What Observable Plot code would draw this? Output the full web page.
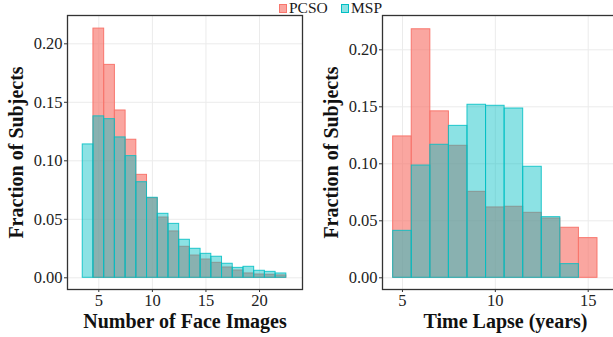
<!DOCTYPE html>
<html>
<head>
<meta charset="utf-8">
<script src="https://cdn.jsdelivr.net/npm/d3@7"></script>
<script src="https://cdn.jsdelivr.net/npm/@observablehq/plot@0.6"></script>
<style>
  html, body { margin: 0; padding: 0; background: #fff; overflow: hidden; width: 613px; height: 337px; }
  #wrap { position: relative; width: 613px; height: 337px; }
  #legend { position: absolute; left: 0; top: 0; width: 613px; height: 15px; z-index: 2; font-family: "Liberation Serif", serif; font-size: 15.5px; color: #1a1a1a; }
  .item { position: absolute; top: 0px; line-height: 15px; white-space: nowrap; }
  .sw { display: inline-block; width: 6px; height: 7px; margin-right: 2px; vertical-align: 0px; border: 1px solid; }
  #row { position: absolute; left: 0; top: 14px; display: flex; width: 613px; overflow: hidden; }
  #left { width: 308px; flex: none; }
  #right { width: 320px; flex: none; }
  g[aria-label="y-axis label"] text, g[aria-label="x-axis label"] text { font-size: 20px !important; font-weight: bold; fill: #111; }
</style>
</head>
<body>
<div id="wrap">
<div id="legend"></div>
<div id="row"><div id="left"></div><div id="right"></div></div>
</div>
<script>
// ---- data ----
const seriesNames = ["PCSO", "MSP"];
const seriesColors = ["#F8766D", "#00BFC4"];

// Left panel: Number of Face Images
const faceBins = [4, 5, 6, 7, 8, 9, 10, 11, 12, 13, 14, 15, 16, 17, 18, 19, 20, 21, 22];
const facePCSO = [0, 0.213, 0.182, 0.143, 0.118, 0.088, 0.068, 0.0515, 0.0396, 0.0265, 0.019, 0.0156, 0.0128, 0.0088, 0.0062, 0.0037, 0.0028, 0.0026, 0.002];
const faceMSP  = [0.114, 0.138, 0.1356, 0.120, 0.104, 0.0817, 0.0684, 0.0547, 0.0461, 0.0325, 0.0248, 0.0205, 0.018, 0.012, 0.0085, 0.0094, 0.006, 0.0051, 0.0037];

// Right panel: Time Lapse (years)
const lapseBins = [5, 6, 7, 8, 9, 10, 11, 12, 13, 14, 15];
const lapsePCSO = [0.124, 0.218, 0.146, 0.1158, 0.0754, 0.0617, 0.0623, 0.057, 0.052, 0.0439, 0.0348];
const lapseMSP  = [0.0412, 0.0985, 0.1167, 0.1333, 0.1518, 0.1509, 0.1485, 0.0974, 0.0532, 0.012, 0];

const yTicks = [0, 0.05, 0.10, 0.15, 0.20];
const faceTicks = [5, 10, 15, 20];
const lapseTicks = [5, 10, 15];

// ---- legend ----
const legend = document.getElementById("legend");
const legendLeft = [279, 341];
seriesNames.forEach((n, i) => {
  const d = document.createElement("div");
  d.className = "item";
  d.style.left = legendLeft[i] + "px";
  const c = d3.color(seriesColors[i]); c.opacity = i === 0 ? 0.65 : 0.45;
  d.innerHTML = `<span class="sw" style="background:${c.formatRgb()};border-color:${seriesColors[i]}"></span>${n}`;
  legend.appendChild(d);
});

function rows(bins, a, b) {
  const out = [];
  bins.forEach((x, i) => out.push({x, y: a[i], s: seriesNames[0]}));
  bins.forEach((x, i) => out.push({x, y: b[i], s: seriesNames[1]}));
  return out;
}

const SERIF = "Liberation Serif, serif";

function panel({width, marginLeft, marginRight, xDomain, yDomain, xTicks, xLabel, data}) {
  const red = data.filter(d => d.s === seriesNames[0]);
  const teal = data.filter(d => d.s === seriesNames[1]);
  return Plot.plot({
    width, height: 323,
    marginTop: 1, marginBottom: 48, marginLeft, marginRight,
    style: {fontSize: "16.5px", fontFamily: SERIF, color: "#222", background: "transparent"},
    x: {domain: xDomain},
    y: {domain: yDomain},
    marks: [
      Plot.gridY(yTicks, {stroke: "#EBEBEB", strokeOpacity: 1, strokeWidth: 1}),
      Plot.gridX(xTicks, {stroke: "#EBEBEB", strokeOpacity: 1, strokeWidth: 1}),
      Plot.rectY(red, {x1: d => d.x - 0.5, x2: d => d.x + 0.5, y1: 0, y2: "y", fill: seriesColors[0], fillOpacity: 0.65, stroke: seriesColors[0], strokeWidth: 1, inset: 0}),
      Plot.rectY(teal, {x1: d => d.x - 0.5, x2: d => d.x + 0.5, y1: 0, y2: "y", fill: seriesColors[1], fillOpacity: 0.45, stroke: seriesColors[1], strokeOpacity: 0.85, strokeWidth: 1, inset: 0}),
      Plot.axisY(yTicks, {tickFormat: d3.format(".2f"), tickSize: 3, tickPadding: 2, stroke: "#333", fontSize: 16.5, fontFamily: SERIF, fill: "#222", label: "Fraction of Subjects", labelAnchor: "center", labelArrow: "none", labelOffset: 59}),
      Plot.axisX(xTicks, {tickFormat: d3.format("d"), tickSize: 3, tickPadding: 2, stroke: "#333", fontSize: 16.5, fontFamily: SERIF, fill: "#222", label: xLabel, labelAnchor: "center", labelArrow: "none", labelOffset: 38}),
      Plot.frame({stroke: "#333", strokeWidth: 1.3})
    ]
  });
}

document.getElementById("left").appendChild(panel({
  width: 308, marginLeft: 67, marginRight: 6,
  xDomain: [2.078, 24.01], yDomain: [-0.01, 0.2242],
  xTicks: faceTicks, xLabel: "Number of Face Images",
  data: rows(faceBins, facePCSO, faceMSP)
}));

document.getElementById("right").appendChild(panel({
  width: 320, marginLeft: 74, marginRight: 0,
  xDomain: [3.925, 17.17], yDomain: [-0.01026, 0.2301],
  xTicks: lapseTicks, xLabel: "Time Lapse (years)",
  data: rows(lapseBins, lapsePCSO, lapseMSP)
}));
</script>
</body>
</html>
